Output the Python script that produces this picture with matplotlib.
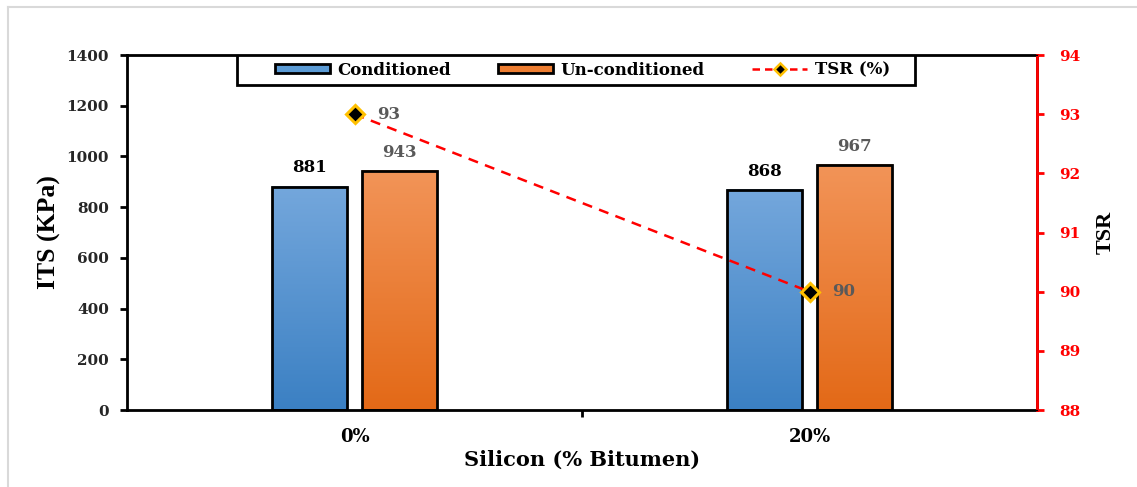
import numpy as np
import matplotlib
matplotlib.use('Agg')
import matplotlib.pyplot as plt
from matplotlib.patches import Patch, Rectangle
from matplotlib.lines import Line2D
from matplotlib.colors import LinearSegmentedColormap

plt.rcParams['font.family'] = ['DejaVu Serif']
plt.rcParams['font.weight'] = 'bold'

categories = ['0%', '20%']
conditioned = [881, 868]
unconditioned = [943, 967]
tsr = [93, 90]

blue_top, blue_bot = '#74a7dc', '#3b80c3'
orange_top, orange_bot = '#f29458', '#e36917'

fig = plt.figure(figsize=(11.37, 4.87), dpi=100)
ax = fig.add_axes([0.1117, 0.158, 0.8004, 0.729])

# thin grey frame lines along the top and left of the figure
fx, fy = 8 / 1137, 1 - 7 / 487
fig.add_artist(Line2D([fx, 1.0], [fy, fy], transform=fig.transFigure, color='#d9d9d9', lw=1.5))
fig.add_artist(Line2D([fx, fx], [0.0, fy], transform=fig.transFigure, color='#d9d9d9', lw=1.5))

x = np.arange(len(categories))
w = 0.165
off = 0.099


def grad_bar(ax, xc, h, top, bot):
    cmap = LinearSegmentedColormap.from_list('g', [bot, top])
    grad = np.linspace(0, 1, 256).reshape(-1, 1)
    ax.imshow(grad, extent=(xc - w / 2, xc + w / 2, 0, h), origin='lower',
              aspect='auto', cmap=cmap, zorder=2)
    ax.bar(xc, h, w, facecolor='none', edgecolor='black', linewidth=2, zorder=3)


for i in range(len(categories)):
    grad_bar(ax, x[i] - off, conditioned[i], blue_top, blue_bot)
    grad_bar(ax, x[i] + off, unconditioned[i], orange_top, orange_bot)
    ax.text(x[i] - off, conditioned[i] + 40, str(conditioned[i]), ha='center', va='bottom',
            fontsize=12, fontweight='bold', color='black')
    ax.text(x[i] + off, unconditioned[i] + 40, str(unconditioned[i]), ha='center', va='bottom',
            fontsize=12, fontweight='bold', color='#595959')

ax.set_xlim(-0.5, 1.5)
ax.set_ylim(0, 1400)
ax.set_yticks(np.arange(0, 1401, 200))
ax.set_xticks(x)
ax.set_xticklabels(categories, fontsize=13)
ax.set_xticks([0.5], minor=True)
ax.tick_params(axis='x', which='major', length=0, pad=13)
ax.tick_params(axis='x', which='minor', length=5, width=2, direction='out')
ax.tick_params(axis='y', length=5, width=2, labelsize=11, colors='black', pad=8)
for lab in ax.get_yticklabels():
    lab.set_color('#262626')
for s in ax.spines.values():
    s.set_linewidth(2)
ax.set_ylabel('ITS (KPa)', fontsize=18.5, fontweight='bold', family='Liberation Serif',
              labelpad=4)
ax.set_xlabel('Silicon (% Bitumen)', fontsize=15, fontweight='bold', labelpad=3)

ax2 = ax.twinx()
ax2.set_ylim(88, 94)
ax2.set_yticks(np.arange(88, 94.1, 1))
ax2.plot(x, tsr, color='red', linestyle='--', linewidth=1.8, dashes=(4, 3), marker='D',
         markersize=9, markerfacecolor='black', markeredgecolor='#ffc000', markeredgewidth=2.2,
         zorder=5)
for i in range(len(categories)):
    ax2.text(x[i] + 0.05, tsr[i], str(tsr[i]), ha='left', va='center', fontsize=12,
             fontweight='bold', color='#595959')
ax2.spines['right'].set_color('red')
ax2.spines['right'].set_linewidth(2)
ax2.tick_params(axis='y', colors='red', length=5, width=2, labelsize=11, pad=11)
ax2.set_ylabel('TSR', fontsize=16, fontweight='bold', family='Liberation Serif',
               color='black', labelpad=11)

# legend box: wider on the left than the entries need
ax2.add_patch(Rectangle((0.1209, 1 - 0.0845), 0.745, 0.0845, transform=ax2.transAxes,
                        facecolor='white', edgecolor='black', linewidth=2, zorder=4))
handles = [Patch(facecolor='#5b9bd5', edgecolor='black', linewidth=2),
           Patch(facecolor='#ed7d31', edgecolor='black', linewidth=2),
           Line2D([], [], color='red', linestyle='--', dashes=(3, 2), linewidth=1.8, marker='D',
                  markersize=6, markerfacecolor='black', markeredgecolor='#ffc000',
                  markeredgewidth=1.8)]
leg = ax2.legend(handles, ['Conditioned', 'Un-conditioned', 'TSR (%)'], ncol=3,
                 loc='center', bbox_to_anchor=(0.5005, 1 - 0.0845 / 2), fontsize=12,
                 frameon=False, handlelength=3.3, handleheight=0.45, columnspacing=2.85,
                 handletextpad=0.45, borderpad=0.0, borderaxespad=0)
leg.set_zorder(6)

fig.savefig('out.png', dpi=100, facecolor='white')
